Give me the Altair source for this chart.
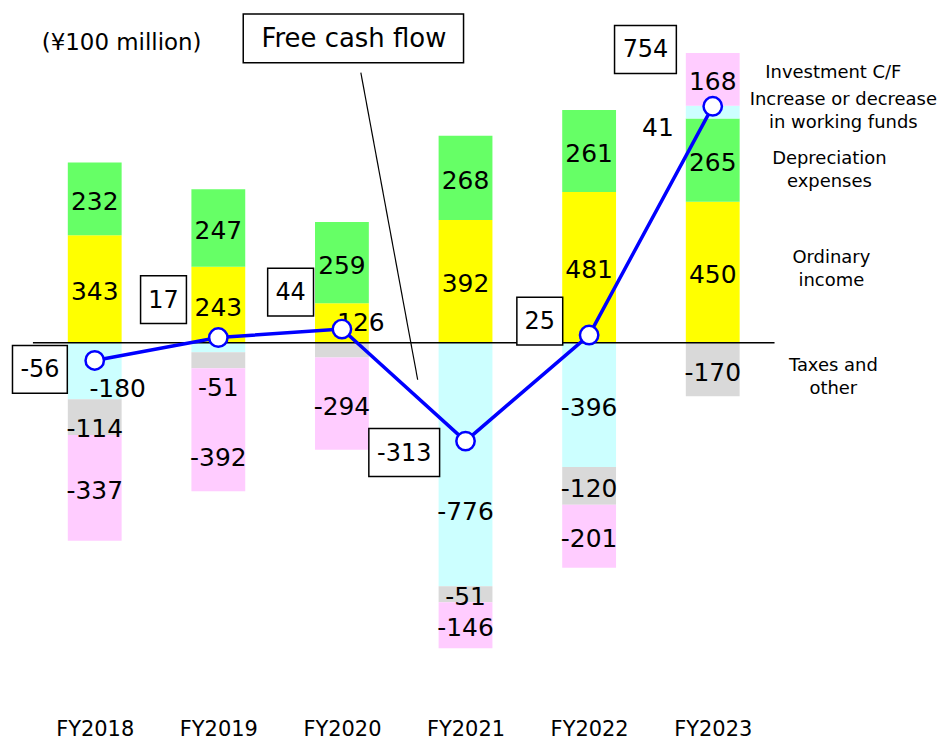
import json
import altair as alt
import pandas as pd

# ---------------- data ----------------
years = ["FY2018", "FY2019", "FY2020", "FY2021", "FY2022", "FY2023"]
ordinary_income = [343, 243, 126, 392, 481, 450]
depreciation = [232, 247, 259, 268, 261, 265]
working_funds = [-180, -30, 0, -776, -396, 41]
taxes_other = [-114, -51, -47, -51, -120, -170]
investment_cf = [-337, -392, -294, -146, -201, 168]
free_cash_flow = [-56, 17, 44, -313, 25, 754]

categories = ["Ordinary income", "Depreciation expenses",
              "Increase or decrease in working funds", "Investment C/F",
              "Taxes and other"]
legend_text = ["Ordinary\nincome", "Depreciation\nexpenses",
               "Increase or decrease\nin working funds", "Investment C/F",
               "Taxes and\nother"]
colors = ["#FFFF00", "#66FF66", "#CCFFFF", "#FFCCFF", "#D9D9D9"]
series = dict(zip(categories, [ordinary_income, depreciation, working_funds,
                               investment_cf, taxes_other]))
OI, DEP, WF, INV, TAX = categories
pos_order = [OI, DEP, WF, INV, TAX]
neg_order = [WF, TAX, INV, OI, DEP]
unlabelled = {("FY2019", WF), ("FY2020", TAX), ("FY2020", WF)}

# ---------------- layout / style ----------------
W, H = 744, 661
Y_DOMAIN = [-1100, 1000]
PX_X = W / len(years)
PX_Y = H / (Y_DOMAIN[1] - Y_DOMAIN[0])
BAR_W = 54
FONT = "DejaVu Sans"
# manual label nudges in pixels (dx right, dy down)
label_shift = {("FY2018", WF): (23, 15), ("FY2018", TAX): (0, 9),
               ("FY2019", TAX): (0, 25), ("FY2019", INV): (0, 25),
               ("FY2020", OI): (19, -3), ("FY2021", WF): (0, 45),
               ("FY2023", WF): (-55, 13)}
fcf_box_shift = [(-55, 9), (-55, -38), (-51.5, -37), (-61.5, 11.5), (-49.5, -14), (-67.5, -57)]
BOX_H = 48
LEGEND_X = 6.008
LEG_LINE_H = 23
legend_shift = {OI: (-6, -3), DEP: (-8, 10), WF: (6, -1), INV: (-4, -6), TAX: (-4, 8)}

# ---------------- tables ----------------
seg_rows, lab_rows = [], []
for i, yr in enumerate(years):
    pos_base, neg_base = 0, 0
    for cat in pos_order:
        v = series[cat][i]
        if v > 0:
            seg_rows.append(dict(x=i - BAR_W / 2 / PX_X, x2=i + BAR_W / 2 / PX_X,
                                 y=pos_base, y2=pos_base + v, cat=cat, year=yr, v=v))
            pos_base += v
    for cat in neg_order:
        v = series[cat][i]
        if v < 0:
            seg_rows.append(dict(x=i - BAR_W / 2 / PX_X, x2=i + BAR_W / 2 / PX_X,
                                 y=neg_base, y2=neg_base + v, cat=cat, year=yr, v=v))
            neg_base += v
for r in seg_rows:
    if (r["year"], r["cat"]) in unlabelled:
        continue
    dx, dy = label_shift.get((r["year"], r["cat"]), (0, 0))
    lab_rows.append(dict(x=years.index(r["year"]) + dx / PX_X,
                         y=(r["y"] + r["y2"]) / 2 - dy / PX_Y, t=str(r["v"])))
segs = pd.DataFrame(seg_rows)
labs = pd.DataFrame(lab_rows)

fcf = pd.DataFrame({"x": list(range(len(years))), "y": free_cash_flow})
box_rows = []
for i, v in enumerate(free_cash_flow):
    t = str(v)
    w = 16 * len(t.lstrip("-")) + (9 if v < 0 else 0) + 14
    dx, dy = fcf_box_shift[i]
    cx = i + dx / PX_X
    cy = v - dy / PX_Y
    box_rows.append(dict(x=cx - w / 2 / PX_X, x2=cx + w / 2 / PX_X,
                         y=cy - BOX_H / 2 / PX_Y, y2=cy + BOX_H / 2 / PX_Y,
                         cx=cx, cy=cy, t=t))
boxes = pd.DataFrame(box_rows)

last = len(years) - 1
leg_rows = []
for cat, txt in zip(categories, legend_text):
    seg = [r for r in seg_rows if r["year"] == years[last] and r["cat"] == cat][0]
    n_lines = txt.count("\n") + 1
    dx, dy = legend_shift[cat]
    dy -= (n_lines - 1) * LEG_LINE_H / 2
    leg_rows.append(dict(x=LEGEND_X + dx / PX_X,
                         y=(seg["y"] + seg["y2"]) / 2 - dy / PX_Y, t=txt))
legend = pd.DataFrame(leg_rows)

# ---------------- encodings ----------------
xscale = alt.Scale(domain=[-0.5, len(years) - 0.5], nice=False, zero=False)
yscale = alt.Scale(domain=Y_DOMAIN, nice=False, zero=False)
xaxis = alt.Axis(values=list(range(len(years))),
                 labelExpr=json.dumps(years) + "[datum.value]",
                 domain=False, ticks=False, grid=False, title=None,
                 labelFont=FONT, labelFontSize=21, labelColor="black",
                 labelPadding=31)
X = lambda f="x": alt.X(f"{f}:Q", scale=xscale, axis=xaxis)
Y = lambda f="y": alt.Y(f"{f}:Q", scale=yscale, axis=None)

bars = alt.Chart(segs).mark_rect().encode(
    x=X(), x2="x2:Q", y=Y(), y2="y2:Q",
    color=alt.Color("cat:N", scale=alt.Scale(domain=categories, range=colors), legend=None))

zero = alt.Chart(pd.DataFrame({"x": [-0.5], "x2": [len(years) - 0.5], "y": [0]})).mark_rule(
    color="black", strokeWidth=1.5).encode(x=X(), x2="x2:Q", y=Y())

labels = alt.Chart(labs).mark_text(font=FONT, fontSize=25, color="black", dy=3,
                                   baseline="middle", align="center").encode(
    x=X(), y=Y(), text="t:N")

line = alt.Chart(fcf).mark_line(color="#0000FF", strokeWidth=3.5).encode(x=X(), y=Y())
pts = alt.Chart(fcf).mark_point(shape="circle", filled=True, fill="white", stroke="#0000FF",
                                strokeWidth=2.5, size=340, opacity=1).encode(x=X(), y=Y())

box_r = alt.Chart(boxes).mark_rect(fill="white", stroke="black", strokeWidth=1.5).encode(
    x=X(), x2="x2:Q", y=Y(), y2="y2:Q")
box_t = alt.Chart(boxes).mark_text(font=FONT, fontSize=24, color="black", dy=1,
                                   baseline="middle", align="center").encode(
    x=X("cx"), y=Y("cy"), text="t:N")

fcf_title_box = alt.Chart(pd.DataFrame({"x": [1.2016], "x2": [2.984], "y": [892.7], "y2": [1048.4]})).mark_rect(
    fill="white", stroke="black", strokeWidth=1.5).encode(x=X(), x2="x2:Q", y=Y(), y2="y2:Q")
fcf_title = alt.Chart(pd.DataFrame({"x": [2.097], "y": [969], "t": ["Free cash flow"]})).mark_text(
    font=FONT, fontSize=26, color="black", baseline="middle", align="center").encode(
    x=X(), y=Y(), text="t:N")
leader = alt.Chart(pd.DataFrame({"x": [2.153], "x2": [2.613], "y": [861], "y2": [-117.5]})).mark_rule(
    color="black", strokeWidth=1.2).encode(x=X(), x2="x2:Q", y=Y(), y2="y2:Q")

leg = alt.Chart(legend).mark_text(font=FONT, fontSize=18, color="black", baseline="middle",
                                  align="center", lineBreak="\n", lineHeight=LEG_LINE_H).encode(
    x=X(), y=Y(), text="t:N")

unit = alt.Chart(pd.DataFrame({"x": [0.218], "y": [956], "t": ["(¥100 million)"]})).mark_text(
    font=FONT, fontSize=23, color="black", baseline="middle", align="center").encode(
    x=X(), y=Y(), text="t:N")

chart = alt.layer(bars, zero, labels, line, pts, box_r, box_t, fcf_title_box, fcf_title,
                  leader, leg, unit).properties(
    width=W, height=H,
    autosize=alt.AutoSizeParams(type="none"),
    padding={"left": 25, "top": 20, "right": 165, "bottom": 55},
    view=alt.ViewBackground(stroke="transparent", strokeWidth=0),
).configure_view(stroke="transparent", strokeWidth=0).configure(background="white")

chart.save("out.html", embed_options={"renderer": "svg", "actions": False})
